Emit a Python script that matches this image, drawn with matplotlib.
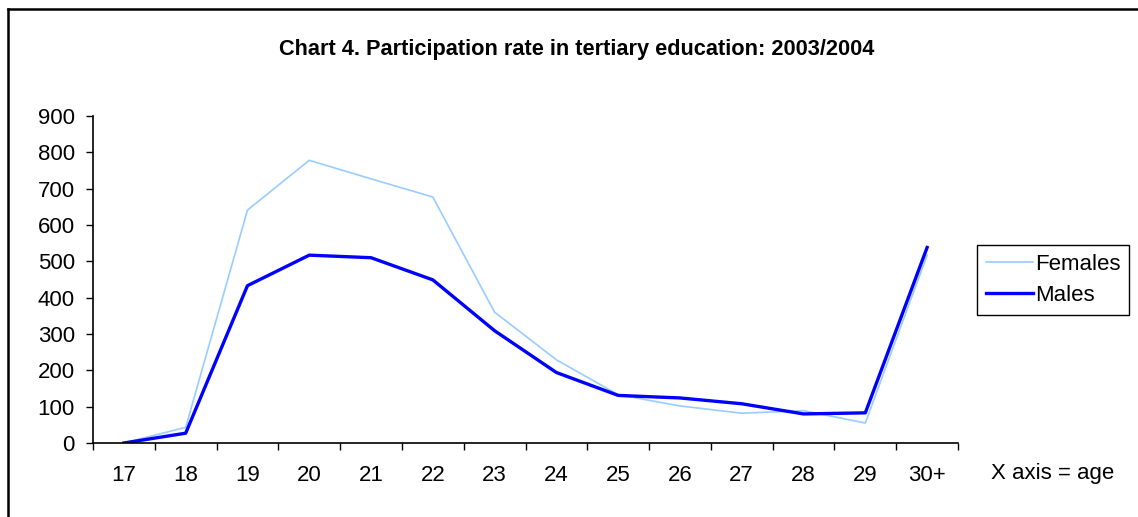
import matplotlib.pyplot as plt
from matplotlib.lines import Line2D

plt.rcParams['font.family'] = ['Liberation Sans', 'DejaVu Sans']

ages = ['17', '18', '19', '20', '21', '22', '23', '24', '25', '26', '27', '28', '29', '30+']
females = [0, 43, 641, 778, 727, 677, 360, 229, 133, 102, 82, 89, 55, 517]
males = [0, 27, 433, 517, 510, 449, 309, 194, 131, 124, 108, 80, 83, 538]

W, H = 1138, 517
fig = plt.figure(figsize=(W / 100, H / 100), dpi=100)

# frame around the chart area (left and top only visible)
fig.add_artist(Line2D([8 / W, 8 / W], [0, 1 - 9 / H], color='black', lw=1.8, transform=fig.transFigure))
fig.add_artist(Line2D([8 / W, 1], [1 - 9 / H, 1 - 9 / H], color='black', lw=1.8, transform=fig.transFigure))

ax = fig.add_axes([93 / W, 1 - 443 / H, (958 - 93) / W, (443 - 116) / H])
x = list(range(len(ages)))
ax.plot(x, females, color='#99CCFF', lw=1.2, label='Females')
ax.plot(x, males, color='#0000FF', lw=2.4, label='Males')

ax.set_xlim(-0.5, len(ages) - 0.5)
ax.set_ylim(0, 900)
ax.set_yticks(range(0, 901, 100))
ax.set_xticks([i - 0.5 for i in range(len(ages) + 1)])
ax.set_xticklabels([])
ax.set_xticks(x, minor=True)
ax.set_xticklabels(ages, minor=True)
ax.tick_params(axis='x', which='minor', length=0, pad=16, labelsize=16)
ax.tick_params(axis='x', which='major', length=5, width=1)
ax.tick_params(axis='y', length=5, width=1, pad=8, labelsize=16)
ax.spines['top'].set_visible(False)
ax.spines['right'].set_visible(False)
for s in ['left', 'bottom']:
    ax.spines[s].set_linewidth(1.2)

fig.text(0.5 * (278 + 876) / W, 1 - 50 / H,
         'Chart 4. Participation rate in tertiary education: 2003/2004',
         ha='center', va='center', fontsize=15.7, fontweight='bold')
fig.text(991 / W, 1 - 474 / H, 'X axis = age', ha='left', va='center', fontsize=16)

leg = fig.legend(loc='upper left', bbox_to_anchor=(977 / W, 1 - 245 / H), fontsize=16,
                 frameon=True, fancybox=False, edgecolor='black', framealpha=1,
                 handlelength=2.1, handletextpad=0.1, borderpad=0.4, labelspacing=0.45,
                 borderaxespad=0)
leg.get_frame().set_linewidth(1.0)

fig.savefig('out.png', dpi=100)
